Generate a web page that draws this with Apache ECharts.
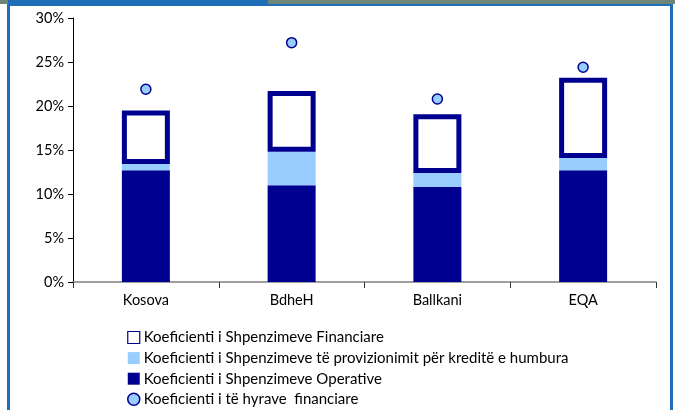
<!DOCTYPE html>
<html>
<head>
<meta charset="utf-8">
<script src="https://cdn.jsdelivr.net/npm/echarts@6/dist/echarts.min.js"></script>
<style>
  html, body { margin: 0; padding: 0; background: #fff; }
  #chart { width: 675px; height: 410px; }
</style>
</head>
<body>
<div id="chart"></div>
<script>
// categories and values (percent)
const categories = ['Kosova', 'BdheH', 'Ballkani', 'EQA'];
const operative = [12.7, 11.0, 10.8, 12.7];
const provisions = [0.7, 3.8, 1.6, 1.4];
const financial = [6.1, 6.9, 6.65, 9.1];
const income = [21.9, 27.2, 20.8, 24.4];
const yTicks = [0, 5, 10, 15, 20, 25, 30];

const names = {
  fin: 'Koeficienti i Shpenzimeve Financiare',
  prov: 'Koeficienti i Shpenzimeve të provizionimit për kreditë e humbura',
  op: 'Koeficienti i Shpenzimeve Operative',
  inc: 'Koeficienti i të hyrave  financiare'
};

const dark = '#000090';
const light = '#99CCFF';
const frame = '#1F6FB8';
const font = 'Lato';

const chart = echarts.init(document.getElementById('chart'));

const option = {
  animation: false,
  textStyle: { fontFamily: font },
  graphic: [
    { type: 'rect', shape: { x: 0, y: 0, width: 675, height: 4 }, style: { fill: '#6E8677' } },
    { type: 'rect', shape: { x: 8, y: 0, width: 260, height: 5 }, style: { fill: frame } },
    { type: 'rect', shape: { x: 8, y: 4, width: 665, height: 2 }, style: { fill: frame } },
    { type: 'rect', shape: { x: 7, y: 4, width: 3, height: 406 }, style: { fill: frame } },
    { type: 'rect', shape: { x: 670, y: 4, width: 3, height: 406 }, style: { fill: frame } }
  ],
  legend: {
    orient: 'vertical',
    left: 127,
    top: 330,
    height: 120,
    padding: 0,
    itemWidth: 12,
    itemHeight: 12,
    itemGap: 5.6,
    textStyle: { fontSize: 15, lineHeight: 12, color: '#000', padding: [0, 0, 0, -1] },
    data: [
      { name: names.fin, icon: 'rect', itemStyle: { borderWidth: 1.2 } },
      { name: names.prov, icon: 'rect' },
      { name: names.op, icon: 'rect' },
      { name: names.inc, icon: 'circle', itemStyle: { borderWidth: 1.5 } }
    ]
  },
  grid: { left: 73, right: 19, top: 18, bottom: 128 },
  xAxis: {
    type: 'category',
    data: categories,
    axisLine: { lineStyle: { color: '#808080', width: 1.5 } },
    axisTick: { show: true, length: 6, lineStyle: { color: '#333' } },
    axisLabel: { fontSize: 14.5, color: '#000', margin: 11 }
  },
  yAxis: {
    type: 'value',
    min: 0,
    max: 30,
    interval: 5,
    axisLine: { show: true, lineStyle: { color: '#000' } },
    axisTick: { show: true, length: 5, lineStyle: { color: '#000' } },
    splitLine: { show: false },
    axisLabel: {
      fontSize: 14.5,
      color: '#000',
      margin: 9,
      formatter: v => (yTicks.includes(v) ? v + '%' : '')
    }
  },
  series: [
    {
      name: names.op,
      type: 'bar',
      stack: 'total',
      barWidth: 48,
      data: operative,
      itemStyle: { color: dark }
    },
    {
      name: names.prov,
      type: 'bar',
      stack: 'total',
      data: provisions,
      itemStyle: { color: light }
    },
    {
      name: names.fin,
      type: 'bar',
      stack: 'total',
      data: financial,
      itemStyle: { color: '#fff', borderColor: dark, borderWidth: 5 }
    },
    {
      name: names.inc,
      type: 'scatter',
      data: income,
      symbol: 'circle',
      symbolSize: 10,
      itemStyle: { color: light, borderColor: dark, borderWidth: 1.5, opacity: 1 }
    }
  ]
};

chart.setOption(option);
</script>
</body>
</html>
